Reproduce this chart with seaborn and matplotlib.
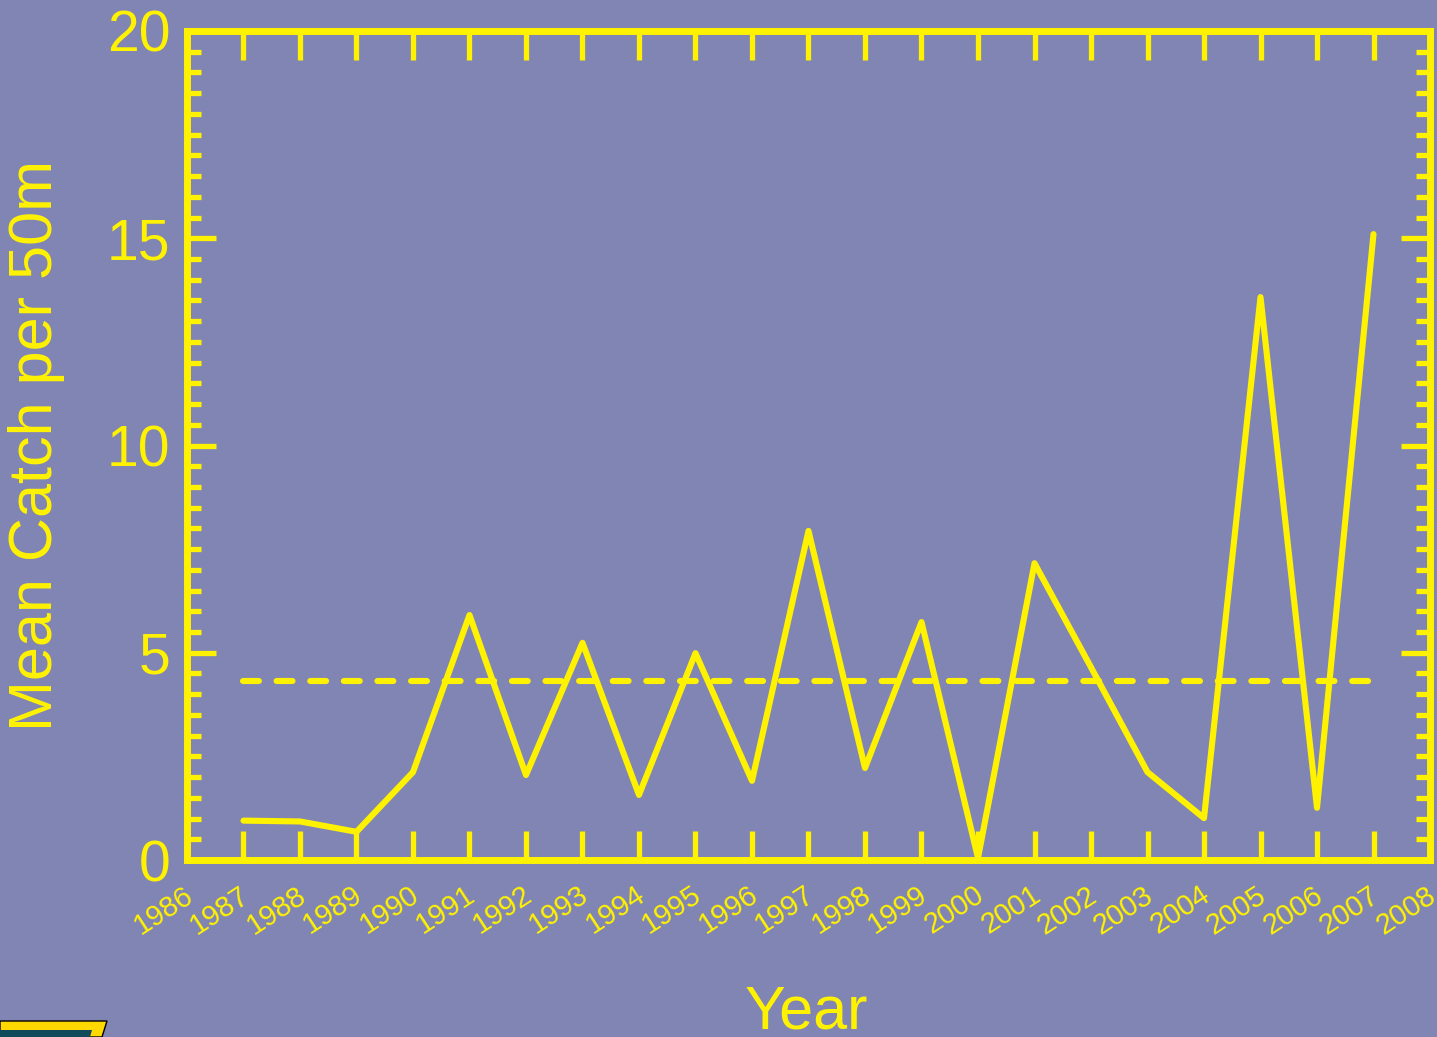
import matplotlib
matplotlib.use("Agg")
import numpy as np
import pandas as pd
import seaborn as sns
import matplotlib.pyplot as plt
from matplotlib.ticker import MultipleLocator
from matplotlib.transforms import ScaledTranslation
from matplotlib.patches import Polygon

# ---------------- data ----------------
years = list(range(1987, 2008))
mean_catch = [0.95, 0.93, 0.68, 2.12, 5.91, 2.05, 5.24, 1.57, 4.99, 1.91,
              7.94, 2.22, 5.74, 0.05, 7.16, 4.65, 2.12, 1.01, 13.58, 1.26, 15.1]
overall_mean = 4.33
x_tick_years = list(range(1986, 2009))
x_tick_labels = [str(y) for y in x_tick_years]
y_ticks = [0, 5, 10, 15, 20]
y_tick_labels = ["0", "5", "10", "15", "20"]

# ---------------- style ----------------
BG = "#8185b3"
YELLOW = "#FFF200"

sns.set_theme(style="ticks")
plt.rcParams["font.family"] = ["Liberation Sans", "DejaVu Sans"]

fig = plt.figure(figsize=(14.37, 10.37), dpi=100, facecolor=BG)
ax = fig.add_axes([0.13013, 0.17068, 0.865, 0.79943])
ax.set_facecolor("none")

df = pd.DataFrame({"Year": years, "Catch": mean_catch})
sns.lineplot(data=df, x="Year", y="Catch", color=YELLOW, lw=4.4,
             errorbar=None, ax=ax, solid_capstyle="round",
             solid_joinstyle="round", clip_on=False, zorder=3)

mean_line, = ax.plot([years[0], years[-1]], [overall_mean, overall_mean],
                     color=YELLOW, lw=4.4, zorder=3)
mean_line.set_dashes((2.6, 2.9))
mean_line.set_dash_capstyle("round")

ax.set_xlim(x_tick_years[0], x_tick_years[-1])
ax.set_ylim(y_ticks[0], y_ticks[-1])

ax.set_xticks(x_tick_years, labels=x_tick_labels)
ax.set_yticks(y_ticks, labels=y_tick_labels)
ax.yaxis.set_minor_locator(MultipleLocator(0.5))

ax.tick_params(axis="x", which="major", direction="in", length=21, width=3.8,
               color=YELLOW, top=True, bottom=True, labelsize=21,
               labelcolor=YELLOW, pad=15)
ax.tick_params(axis="x", which="minor", length=0)
ax.tick_params(axis="y", which="major", direction="in", length=21, width=3.8,
               color=YELLOW, left=True, right=True, labelsize=41,
               labelcolor=YELLOW, pad=12)
ax.tick_params(axis="y", which="minor", direction="in", length=10, width=3.8,
               color=YELLOW, left=True, right=True)

offset = ScaledTranslation(11 / 100, 0, fig.dpi_scale_trans)
for lbl in ax.get_xticklabels():
    lbl.set_rotation(33)
    lbl.set_ha("right")
    lbl.set_transform(lbl.get_transform() + offset)

for sp in ax.spines.values():
    sp.set_color(YELLOW)
    sp.set_linewidth(5)
    sp.set_capstyle("projecting")

ax.set_xlabel("Year", fontsize=44, color=YELLOW)
ax.xaxis.label.set_va("baseline")
ax.xaxis.set_label_coords(0.498, -0.2027)
ax.set_ylabel("Mean Catch per 50m", fontsize=44, color=YELLOW)
ax.yaxis.set_label_coords(-0.0985, 0.5)

# small logo fragment in bottom-left corner (pixel coords)
H = 1037
fig.patches.append(Polygon([(0, H - 1021), (107, H - 1021), (102, H - 1037), (0, H - 1037)],
                           closed=True, facecolor="#FFD800", edgecolor="black",
                           lw=1, transform=None, figure=fig))
fig.patches.append(Polygon([(0, H - 1030), (92, H - 1030), (90, H - 1037), (0, H - 1037)],
                           closed=True, facecolor="#0f4a5a", edgecolor="none",
                           transform=None, figure=fig))

fig.savefig("out.png", dpi=100, facecolor=fig.get_facecolor())
